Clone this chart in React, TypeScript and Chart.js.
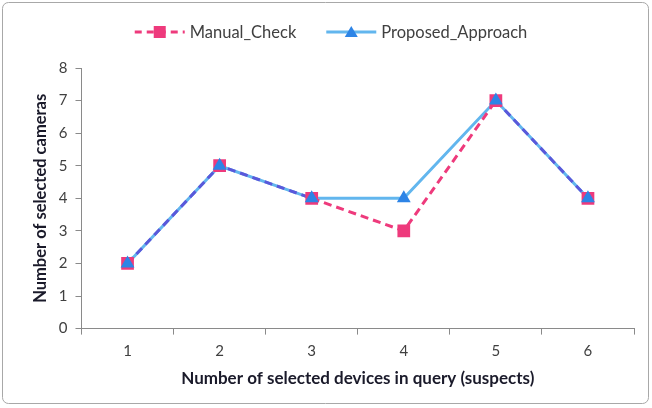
import React, { useEffect, useRef } from "react";
import { Chart, registerables } from "chart.js";

Chart.register(...registerables);

const categories = ["1", "2", "3", "4", "5", "6"];
const manualCheck = [2, 5, 4, 3, 7, 4];
const proposedApproach = [2, 5, 4, 4, 7, 4];
const seriesNames = ["Manual_Check", "Proposed_Approach"];
const yTitle = "Number of selected cameras";
const xTitle = "Number of selected devices in query (suspects)";

const PINK = "#ee3a7c";
const BLUE_LINE = "#62b6ee";
const BLUE_MARK = "#2d84e6";
const OVERLAP = "#5a58da";
const FONT = "Lato, 'Open Sans', sans-serif";

const frame = {
  id: "frame",
  beforeDraw(chart: any) {
    const ctx = chart.ctx;
    ctx.save();
    ctx.fillStyle = "#ffffff";
    ctx.fillRect(0, 0, chart.width, chart.height);
    ctx.strokeStyle = "#a8a8a8";
    ctx.lineWidth = 1;
    ctx.beginPath();
    (ctx as any).roundRect(2.5, 2.5, chart.width - 6, chart.height - 7, 6);
    ctx.stroke();
    ctx.restore();
  },
};

// Legend: line + marker icon followed by the series name
const customLegend = {
  id: "customLegend",
  afterDraw(chart: any) {
    const ctx = chart.ctx;
    ctx.save();
    ctx.font = `16.5px ${FONT}`;
    const iconW = 50;
    const gap = 5;
    const itemGap = 30;
    const w0 = ctx.measureText(seriesNames[0]).width;
    const w1 = ctx.measureText(seriesNames[1]).width;
    const total = iconW + gap + w0 + itemGap + iconW + gap + w1;
    const cy = 32;
    let x = 331 - total / 2;
    // Manual_Check
    ctx.lineWidth = 3;
    ctx.strokeStyle = PINK;
    ctx.setLineDash([7, 5]);
    ctx.beginPath();
    ctx.moveTo(x, cy);
    ctx.lineTo(x + iconW, cy);
    ctx.stroke();
    ctx.setLineDash([]);
    ctx.fillStyle = PINK;
    ctx.fillRect(x + iconW / 2 - 6, cy - 6, 12, 12);
    ctx.fillStyle = "#404040";
    ctx.textBaseline = "middle";
    ctx.textAlign = "left";
    ctx.fillText(seriesNames[0], x + iconW + gap, cy + 1);
    x += iconW + gap + w0 + itemGap;
    // Proposed_Approach
    ctx.strokeStyle = BLUE_LINE;
    ctx.beginPath();
    ctx.moveTo(x, cy);
    ctx.lineTo(x + iconW, cy);
    ctx.stroke();
    ctx.fillStyle = BLUE_MARK;
    ctx.beginPath();
    ctx.moveTo(x + iconW / 2, cy - 6);
    ctx.lineTo(x + iconW / 2 + 6.5, cy + 5);
    ctx.lineTo(x + iconW / 2 - 6.5, cy + 5);
    ctx.closePath();
    ctx.fill();
    ctx.fillStyle = "#404040";
    ctx.fillText(seriesNames[1], x + iconW + gap, cy + 1);
    ctx.restore();
  },
};

export default function App() {
  const ref = useRef<HTMLCanvasElement>(null);
  useEffect(() => {
    document.body.style.margin = "0";
    const chart = new Chart(ref.current!, {
      type: "line",
      data: {
        labels: categories,
        datasets: [
          {
            label: seriesNames[1],
            data: proposedApproach,
            borderColor: BLUE_LINE,
            borderWidth: 3,
            pointRadius: 0,
            order: 3,
          },
          {
            label: seriesNames[0],
            data: manualCheck,
            borderColor: PINK,
            backgroundColor: PINK,
            borderWidth: 3,
            borderDash: [8, 5],
            pointStyle: "rect",
            pointRadius: 9,
            pointBorderWidth: 0,
            order: 2,
            segment: {
              borderColor: (c: any) =>
                manualCheck[c.p0DataIndex] === proposedApproach[c.p0DataIndex] &&
                manualCheck[c.p1DataIndex] === proposedApproach[c.p1DataIndex]
                  ? OVERLAP
                  : PINK,
            },
          },
          {
            label: seriesNames[1] + " markers",
            data: proposedApproach,
            showLine: false,
            borderColor: BLUE_MARK,
            backgroundColor: BLUE_MARK,
            pointStyle: "triangle",
            pointRadius: 8,
            pointBorderWidth: 0,
            order: 1,
          },
        ],
      },
      options: {
        animation: false,
        responsive: false,
        layout: { padding: { left: 27, right: 18, top: 68, bottom: 15 } },
        plugins: {
          tooltip: { enabled: false },
          legend: { display: false },
        },
        scales: {
          x: {
            offset: true,
            grid: { display: true, drawOnChartArea: false, offset: true, tickLength: 6, color: "#8a8a8a" },
            border: { color: "#8a8a8a" },
            ticks: { color: "#404040", font: { family: FONT, size: 15 }, padding: 8 },
            title: { display: true, text: xTitle, color: "#1a1a2a", font: { family: FONT, size: 17, weight: "bold" }, padding: { top: 0 } },
          },
          y: {
            min: 0,
            max: 8,
            ticks: { stepSize: 1, color: "#404040", font: { family: FONT, size: 15 }, padding: 8 },
            grid: { display: true, drawOnChartArea: false, tickLength: 6, color: "#8a8a8a" },
            border: { color: "#8a8a8a" },
            title: { display: true, text: yTitle, color: "#1a1a2a", font: { family: FONT, size: 16.5, weight: "bold" }, padding: { bottom: 0 } },
          },
        },
      },
      plugins: [frame, customLegend],
    });
    return () => chart.destroy();
  }, []);
  return (
    <div style={{ position: "absolute", left: 0, top: 0, width: 652, height: 408 }}>
      <canvas ref={ref} width={652} height={408} style={{ width: 652, height: 408 }} />
    </div>
  );
}
